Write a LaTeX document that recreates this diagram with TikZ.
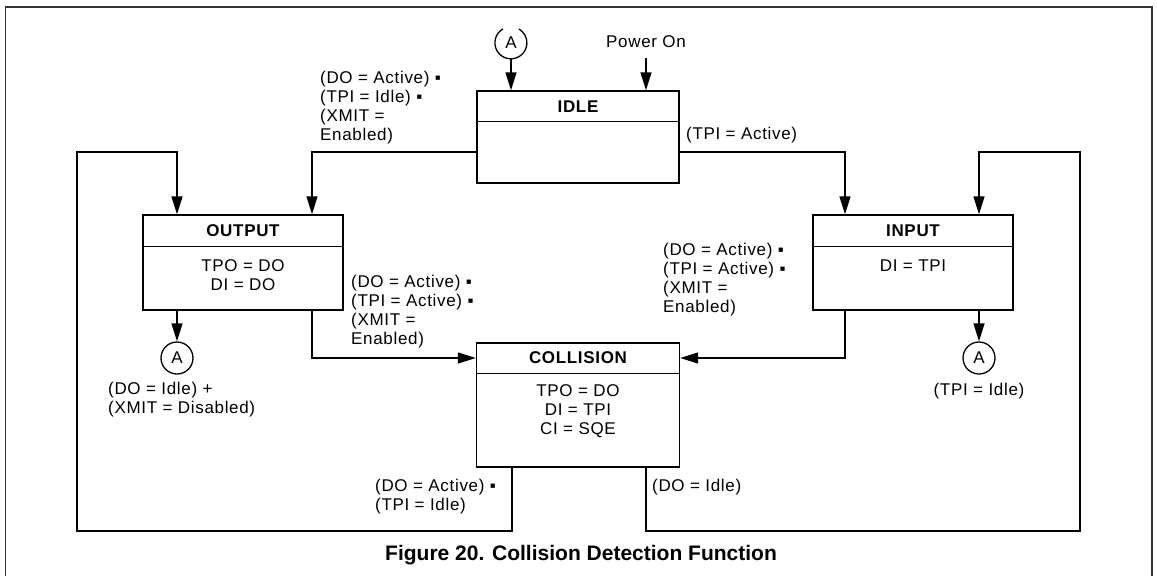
\documentclass[tikz,border=0pt]{standalone}
\usepackage{fontspec}
\setmainfont{Liberation Sans}
\newfontfamily\lblfont{Liberation Sans}[LetterSpace=4]
\usetikzlibrary{arrows.meta}
\begin{document}
\begin{tikzpicture}[x=1pt,y=-1pt,
  every node/.style={font=\lblfont\fontsize{17}{19}\selectfont, inner sep=0pt},
  box/.style={draw, line width=1.4pt, rectangle},
  ttl/.style={font=\lblfont\bfseries\fontsize{17}{19}\selectfont},
  lbl/.style={align=left, anchor=west},
  body/.style={align=center},
  conn/.style={line width=1.4pt},
  arr/.style={conn, -{Triangle[length=18pt,width=11pt]}},
  circ/.style={circle, draw, line width=1.3pt, minimum size=32pt, font=\lblfont\fontsize{17}{19}\selectfont}
]
\useasboundingbox (0,0) rectangle (1157,576);
% frame (open at the bottom)
\draw[line width=1.2pt, black!80] (5.5,576) -- (5.5,7) -- (1152,7) -- (1152,576);

% states
\node[box, minimum width=202pt, minimum height=92pt] (idle) at (578,137) {};
\node[ttl] (idlet) at (578,107) {IDLE};
\draw[conn] ([yshift=-31pt]idle.north west) -- ([yshift=-31pt]idle.north east);

\node[box, minimum width=200pt, minimum height=95pt] (output) at (243,262.5) {};
\node[ttl] (outputt) at (243,231) {OUTPUT};
\draw[conn] ([yshift=-32pt]output.north west) -- ([yshift=-32pt]output.north east);
\node[body] (outputb) at (243,275.5) {TPO = DO\\DI = DO};

\node[box, minimum width=200pt, minimum height=95pt] (input) at (913,262.5) {};
\node[ttl] (inputt) at (913,231) {INPUT};
\draw[conn] ([yshift=-32pt]input.north west) -- ([yshift=-32pt]input.north east);
\node[body] (inputb) at (913,266) {DI = TPI};

\node[box, minimum width=203pt, minimum height=124pt] (coll) at (578,405) {};
\node[ttl] (collt) at (578,358) {COLLISION};
\draw[conn] ([yshift=-31pt]coll.north west) -- ([yshift=-31pt]coll.north east);
\node[body] (collb) at (578,411) {TPO = DO\\DI = TPI\\CI = SQE};

% connectors (A)
\node[minimum size=32pt, circle, font=\lblfont\fontsize{17}{19}\selectfont] (aT) at (511,43) {A};
\draw[line width=1.3pt] (aT.120) arc[start angle=120, end angle=420, radius=16pt];
\node[circ] (aL) at (177,358) {A};
\node[circ] (aR) at (979,358) {A};

\node (pwr) at (646,42) {Power On};

% bend coordinates
\coordinate (b1) at (312,152);
\coordinate (b2) at (845,152);
\coordinate (b3) at (312,358);
\coordinate (b4) at (845,358);
\coordinate (cbl) at (512,0);
\coordinate (cbr) at (646,0);
\coordinate (ll) at (77,531);
\coordinate (lt) at (177,152);
\coordinate (rl) at (1080,531);
\coordinate (rt) at (979,152);

% transitions
\draw[arr] (aT.south) -- (idle.north -| aT);
\draw[arr, shorten <=10pt] (pwr.south) -- (idle.north -| pwr);
\draw[arr] (b1 -| idle.west) -| (output.north -| b1);
\draw[arr] (b2 -| idle.east) -| (input.north -| b2);
\draw[arr] (output.south -| b3) |- (coll.west |- b3);
\draw[arr] (input.south -| b4) |- (coll.east |- b4);
\draw[arr] (output.south -| aL) -- (aL.north);
\draw[arr] (input.south -| aR) -- (aR.north);
\draw[arr] (coll.south -| cbl) |- (ll) |- (lt) -- (output.north -| lt);
\draw[arr] (coll.south -| cbr) |- (rl) |- (rt) -- (input.north -| rt);

% labels
\node[lbl] (l1) at (320,108) {(DO = Active) ▪\\(TPI = Idle) ▪\\(XMIT =\\Enabled)};
\node[lbl] (l2) at (686,135) {(TPI = Active)};
\node[lbl] (l3) at (351,311.5) {(DO = Active) ▪\\(TPI = Active) ▪\\(XMIT =\\Enabled)};
\node[lbl] (l4) at (663,279.5) {(DO = Active) ▪\\(TPI = Active) ▪\\(XMIT =\\Enabled)};
\node[lbl] (l5) at (108,399.5) {(DO = Idle) +\\(XMIT = Disabled)};
\node (l6) at (979,391) {(TPI = Idle)};
\node[lbl] (l7) at (375,497) {(DO = Active) ▪\\(TPI = Idle)};
\node[lbl] (l8) at (652,487) {(DO = Idle)};

\node[font=\bfseries\fontsize{21}{24}\selectfont] (cap) at (581,555) {Figure 20. Collision Detection Function};
\end{tikzpicture}
\end{document}
